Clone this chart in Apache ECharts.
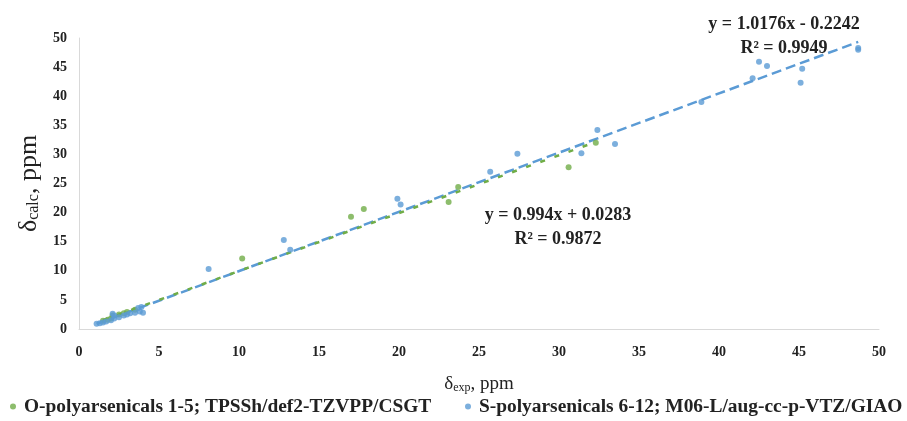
<!DOCTYPE html>
<html><head><meta charset="utf-8">
<script src="https://cdn.jsdelivr.net/npm/echarts@6/dist/echarts.min.js"></script>
<style>html,body{margin:0;padding:0;background:#fff}#c{width:907px;height:421px}</style>
</head><body><div id="c"></div>
<script>
const seriesNames = ['O-polyarsenicals 1-5; TPSSh/def2-TZVPP/CSGT', 'S-polyarsenicals 6-12; M06-L/aug-cc-p-VTZ/GIAO'];
const oExp  = [1.5, 1.8, 2.0, 2.1, 2.5, 2.8, 3.0, 3.5, 10.2, 17.0, 17.8, 23.1, 23.7, 30.6, 32.3];
const oCalc = [1.4, 1.6, 1.8, 2.3, 2.5, 2.7, 2.9, 3.3, 12.1, 19.3, 20.6, 21.8, 24.4, 27.8, 32.0];
const sExp  = [1.1, 1.3, 1.5, 1.7, 2.0, 2.1, 2.2, 2.2, 2.5, 2.8, 3.0, 3.2, 3.5, 3.7, 3.8, 3.9, 4.0, 8.1, 12.8, 13.2, 19.9, 20.1, 25.7, 27.4, 31.4, 32.4, 33.5, 38.9, 42.1, 42.5, 43.0, 45.1, 45.2, 48.7, 48.7];
const sCalc = [0.9, 1.0, 1.1, 1.3, 1.5, 2.6, 1.8, 2.3, 2.0, 2.3, 2.5, 2.7, 2.8, 3.6, 3.0, 3.8, 2.8, 10.3, 15.3, 13.6, 22.4, 21.4, 27.0, 30.1, 30.2, 34.2, 31.8, 39.0, 43.1, 45.9, 45.2, 42.3, 44.7, 48.3, 48.0];
const oFit = {slope: 0.994, intercept: 0.0283, label: ['y = 0.994x + 0.0283', 'R² = 0.9872']};
const sFit = {slope: 1.0176, intercept: -0.2242, label: ['y = 1.0176x - 0.2242', 'R² = 0.9949']};
const xTicks = [0, 50, 5];
const yTicks = [0, 50, 5];

const green = '#70AD47', blue = '#5B9BD5';
const font = 'Liberation Serif';
function fitLine(xs, f) {
  const lo = Math.min(...xs), hi = Math.max(...xs);
  return [[lo, f.slope*lo + f.intercept], [hi, f.slope*hi + f.intercept]];
}
const pts = (xs, ys) => xs.map((x, i) => [x, ys[i]]);
const annFont = 'bold 18px "Liberation Serif"';
function ann(text, x, y) {
  return {type: 'text', x: x, y: y, style: {text: text, font: annFont, fill: '#222', align: 'center', verticalAlign: 'middle'}};
}
const legendText = {fontSize: 19.4, fontWeight: 'bold', fontFamily: font, color: '#222', padding: [0, 0, 0, 3]};

const chart = echarts.init(document.getElementById('c'));
chart.setOption({
  animation: false,
  textStyle: {fontFamily: font},
  grid: {left: 79, right: 28, top: 38, bottom: 92},
  xAxis: {
    type: 'value', min: xTicks[0], max: xTicks[1], interval: xTicks[2],
    splitLine: {show: false}, axisTick: {show: false},
    axisLine: {lineStyle: {color: '#d9d9d9', width: 1}},
    axisLabel: {color: '#222', fontSize: 14, fontWeight: 'bold', fontFamily: font, margin: 16},
    name: '{d|δ}{s|exp}{d|, ppm}', nameLocation: 'middle', nameGap: 45,
    nameTextStyle: {rich: {d: {fontSize: 19, fontFamily: font, color: '#222'}, s: {fontSize: 12, fontFamily: font, color: '#222', verticalAlign: 'bottom', padding: [8,0,0,0]}}}
  },
  yAxis: {
    type: 'value', min: yTicks[0], max: yTicks[1], interval: yTicks[2],
    splitLine: {show: false}, axisTick: {show: false},
    axisLine: {show: true, lineStyle: {color: '#d9d9d9', width: 1}},
    axisLabel: {color: '#222', fontSize: 14, fontWeight: 'bold', fontFamily: font, margin: 12},
    name: '{d|δ}{s|calc}{d|, ppm}', nameLocation: 'middle', nameGap: 31, nameRotate: 90,
    nameTextStyle: {rich: {d: {fontSize: 26, fontFamily: font, color: '#222'}, s: {fontSize: 16, fontFamily: font, color: '#222', verticalAlign: 'bottom', padding: [10,0,0,0]}}}
  },
  legend: [
    {left: 10, top: 397, padding: 0, icon: 'circle', itemWidth: 6, itemHeight: 6, data: [seriesNames[0]], textStyle: legendText},
    {left: 465, top: 397, padding: 0, icon: 'circle', itemWidth: 6, itemHeight: 6, data: [seriesNames[1]], textStyle: legendText}
  ],
  graphic: [
    ann(oFit.label[0], 558, 215), ann(oFit.label[1], 558, 239),
    ann(sFit.label[0], 784, 24), ann(sFit.label[1], 784, 48)
  ],
  series: [
    {name: seriesNames[0], type: 'scatter', data: pts(oExp, oCalc), symbolSize: 6, itemStyle: {color: green}, z: 3},
    {name: seriesNames[1], type: 'scatter', data: pts(sExp, sCalc), symbolSize: 6, itemStyle: {color: blue}, z: 3},
    {name: 'fitS', type: 'line', data: fitLine(sExp, sFit), symbol: 'none', lineStyle: {color: blue, width: 2.5, type: [10, 5]}, z: 2},
    {name: 'fitO', type: 'line', data: fitLine(oExp, oFit), symbol: 'none', lineStyle: {color: green, width: 2.5, type: [5, 10]}, z: 2}
  ]
});
</script></body></html>
